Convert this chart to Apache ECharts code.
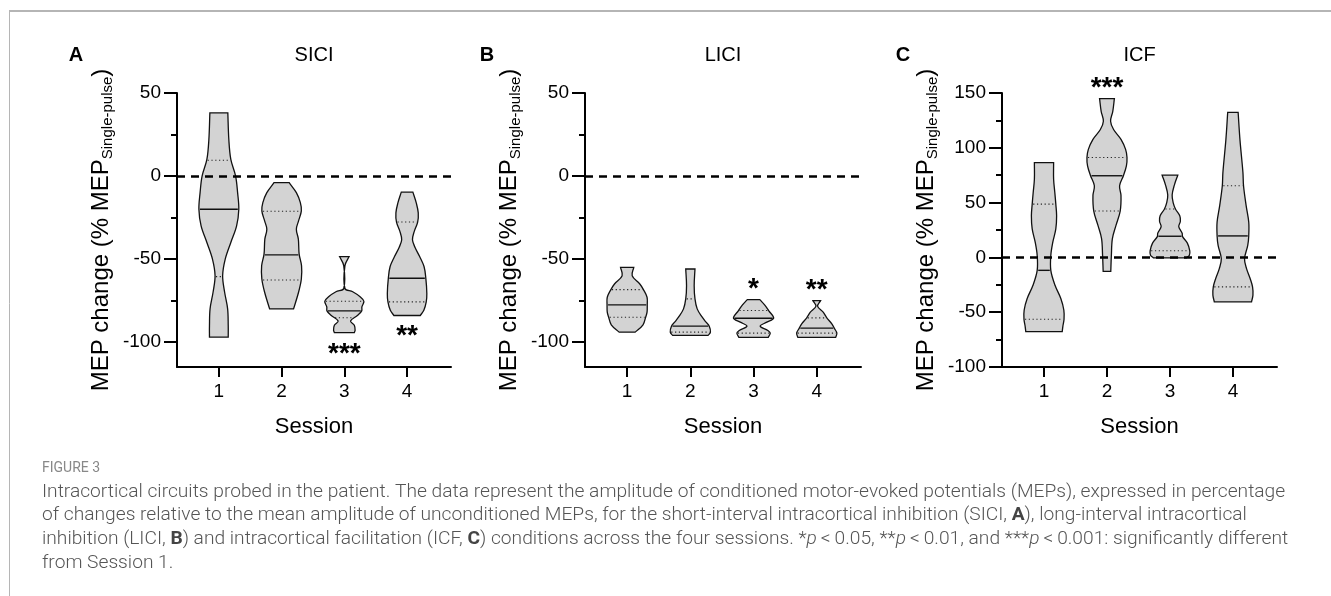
<!DOCTYPE html>
<html><head><meta charset="utf-8">
<script src="https://cdn.jsdelivr.net/npm/echarts@6/dist/echarts.min.js"></script>
<style>html,body{margin:0;padding:0;background:#fff}#c{width:1331px;height:596px}</style>
</head><body><div id="c"></div><script>
// ---------------- DATA ----------------
const sessions = [1, 2, 3, 4];
const xTickLabels = ['1', '2', '3', '4'];
const yTicksAB = [-100, -50, 0, 50];
const yMinorAB = [-75, -25, 25];
const yTicksC = [-100, -50, 0, 50, 100, 150];
const yMinorC = [-75, -25, 25, 75, 125];

// Violin outlines: levels (% change) and relative half-width (1 = widest)
const siciS1Level = [38, 22, 10, 0, -10, -20, -30, -40, -50, -60, -70, -80, -90, -97];
const siciS1Width = [0.45, 0.5, 0.6, 0.84, 0.94, 1, 0.89, 0.6, 0.32, 0.19, 0.29, 0.44, 0.47, 0.47];
const siciS2Level = [-4, -10, -16, -21, -27, -32, -38, -47, -54, -62, -70, -80];
const siciS2Width = [0.38, 0.74, 0.94, 0.99, 0.85, 0.74, 0.84, 0.88, 1, 0.99, 0.85, 0.6];
const siciS3Level = [-48.5, -54, -67.7, -69.7, -72.7, -75.4, -78.8, -81.2, -83.8, -87.3, -89.9, -92.9, -94.3];
const siciS3Width = [0.24, 0.03, 0.03, 0.42, 0.79, 0.98, 0.88, 0.87, 0.67, 0.31, 0.5, 0.54, 0.5];
const siciS4Level = [-9.7, -16.2, -22.2, -27.7, -33.3, -38.4, -43, -48.5, -54.5, -61.6, -70.7, -75.8, -80.8, -84];
const siciS4Width = [0.29, 0.46, 0.56, 0.53, 0.36, 0.27, 0.4, 0.63, 0.85, 0.94, 0.99, 0.96, 0.84, 0.66];
const siciMedian = [-20, -47.5, -81.2, -61.6];
const siciQ1 = [-60.6, -62.6, -85.3, -75.8];
const siciQ3 = [9.5, -21.2, -75.4, -27.7];
const siciStars = ['', '', '***', '**'];
const siciStarY = [null, null, -105, -94];

const liciS1Level = [-55, -60, -65, -68.4, -73, -77.6, -82, -85, -89.6, -94];
const liciS1Width = [0.33, 0.25, 0.63, 0.81, 0.99, 1, 0.99, 0.92, 0.79, 0.4];
const liciS2Level = [-56, -66, -74, -80, -85, -88, -90.4, -94, -96];
const liciS2Width = [0.23, 0.19, 0.23, 0.34, 0.59, 0.78, 0.94, 1, 0.88];
const liciS3Level = [-74.4, -78, -81, -85.6, -88, -90.4, -93, -94.6, -97.2];
const liciS3Width = [0.31, 0.58, 0.75, 1, 0.66, 0.33, 0.71, 0.83, 0.73];
const liciS4Level = [-75, -78.4, -82, -85.4, -89, -91.6, -94.6, -97.2];
const liciS4Width = [0.19, 0.04, 0.32, 0.5, 0.75, 0.87, 1, 0.94];
const liciMedian = [-77.6, -90.4, -85.6, -91.6];
const liciQ1 = [-85, -94, -94.6, -94.6];
const liciQ3 = [-68.4, -74, -81, -85.4];
const liciStars = ['', '', '*', '**'];
const liciStarY = [null, null, -66, -66.5];

const icfS1Level = [86.4, 71.3, 59.2, 48.6, 38, 26, 13.9, 1.8, -11.8, -25.4, -37.5, -48, -56.5, -63.1, -67.7];
const icfS1Width = [0.48, 0.48, 0.54, 0.59, 0.63, 0.59, 0.44, 0.34, 0.34, 0.55, 0.84, 0.99, 1, 0.94, 0.91];
const icfS2Level = [144.8, 133.3, 124.3, 116.7, 107.7, 98.6, 91.1, 83.5, 74.5, 65.4, 56.4, 42.3, 29.2, 17.2, 2.1, -12.8];
const icfS2Width = [0.37, 0.29, 0.18, 0.33, 0.7, 0.93, 1, 0.97, 0.82, 0.63, 0.7, 0.66, 0.45, 0.27, 0.22, 0.19];
const icfS3Level = [75, 66, 57, 50, 44, 38, 33, 28, 22, 19, 13, 6, 2, -0.5];
const icfS3Width = [0.39, 0.22, 0.11, 0.16, 0.28, 0.49, 0.52, 0.44, 0.61, 0.63, 0.87, 0.99, 0.97, 0.82];
const icfS4Level = [132.4, 107.7, 77.5, 65.4, 47.3, 32.3, 19.6, 10.9, -1.2, -10.3, -19.3, -26.9, -34.4, -40.5];
const icfS4Width = [0.26, 0.35, 0.5, 0.53, 0.66, 0.79, 0.79, 0.74, 0.58, 0.68, 0.86, 0.98, 1, 0.93];
const icfMedian = [-11.8, 74.5, 19.3, 19.6];
const icfQ1 = [-56.5, 42.3, 6.1, -26.9];
const icfQ3 = [48.6, 91.1, 44.2, 65.4];
const icfStars = ['', '***', '', ''];
const icfStarY = [null, 157.5, null, null];

const panelTitles = ['SICI', 'LICI', 'ICF'];
const panelLetters = ['A', 'B', 'C'];
const yTitleMain = 'MEP change (% MEP';
const yTitleSub = 'Single-pulse';
const yTitleEnd = ')';
const xAxisTitle = 'Session';

const figureLabel = 'FIGURE 3';
const captionLines = [
  'Intracortical circuits probed in the patient. The data represent the amplitude of conditioned motor-evoked potentials (MEPs), expressed in percentage',
  'of changes relative to the mean amplitude of unconditioned MEPs, for the short-interval intracortical inhibition (SICI, {b|A}), long-interval intracortical',
  'inhibition (LICI, {b|B}) and intracortical facilitation (ICF, {b|C}) conditions across the four sessions. *{i|p}\u2009<\u20090.05, **{i|p}\u2009<\u20090.01, and ***{i|p}\u2009<\u20090.001: significantly different',
  'from Session 1.'
];

// ---------------- LAYOUT / STYLE ----------------
const FONT = '"Liberation Sans", Arial, Helvetica, sans-serif';
const CAPFONT = 'Roboto, "Noto Sans", sans-serif';
const HALF = 0.318;          // widest half-width in session units
const X_MIN = 0.333, X_MAX = 4.7;
const gridTop = 93, gridHeight = 274;
const gridLefts = [177, 585, 1002];
const gridWidths = [274, 276, 275];

const panels = [
  { levels: [siciS1Level, siciS2Level, siciS3Level, siciS4Level], widths: [siciS1Width, siciS2Width, siciS3Width, siciS4Width],
    med: siciMedian, q1: siciQ1, q3: siciQ3, stars: siciStars, starY: siciStarY, yMin: -115, yMax: 50, ticks: yTicksAB, minor: yMinorAB },
  { levels: [liciS1Level, liciS2Level, liciS3Level, liciS4Level], widths: [liciS1Width, liciS2Width, liciS3Width, liciS4Width],
    med: liciMedian, q1: liciQ1, q3: liciQ3, stars: liciStars, starY: liciStarY, yMin: -115, yMax: 50, ticks: yTicksAB, minor: yMinorAB },
  { levels: [icfS1Level, icfS2Level, icfS3Level, icfS4Level], widths: [icfS1Width, icfS2Width, icfS3Width, icfS4Width],
    med: icfMedian, q1: icfQ1, q3: icfQ3, stars: icfStars, starY: icfStarY, yMin: -100, yMax: 150, ticks: yTicksC, minor: yMinorC }
];

function interpWidth(L, W, v) {
  for (let k = 0; k < L.length - 1; k++) {
    const a = L[k], b = L[k + 1];
    if ((v <= a && v >= b) || (v >= a && v <= b)) {
      const t = (a === b) ? 0 : (v - a) / (b - a);
      return W[k] + t * (W[k + 1] - W[k]);
    }
  }
  return W[W.length - 1];
}

function violinRender(p) {
  return function (params, api) {
    const i = params.dataIndex;
    const xc = api.value(0);
    const L = p.levels[i], W = p.widths[i];
    const n = L.length;
    const R = [], Lf = [];
    for (let k = 0; k < n; k++) {
      R.push(api.coord([xc + W[k] * HALF, L[k]]));
      Lf.push(api.coord([xc - W[k] * HALF, L[k]]));
    }
    const pts = [R[0].slice(), R[0].slice()];
    for (let k = 1; k < n - 1; k++) pts.push(R[k]);
    pts.push(R[n - 1].slice(), R[n - 1].slice(), Lf[n - 1].slice(), Lf[n - 1].slice());
    for (let k = n - 2; k >= 1; k--) pts.push(Lf[k]);
    pts.push(Lf[0].slice(), Lf[0].slice());
    const children = [{
      type: 'polygon',
      shape: { points: pts, smooth: 0.35, smoothConstraint: false },
      style: { fill: '#d3d3d3', stroke: '#111', lineWidth: 1.3 }
    }];
    function hline(v, dashed) {
      const hw = interpWidth(L, W, v) * HALF;
      const a = api.coord([xc - hw, v]), b = api.coord([xc + hw, v]);
      children.push({
        type: 'line',
        shape: { x1: a[0] + 1, y1: a[1], x2: b[0] - 1, y2: b[1] },
        style: dashed ? { stroke: '#222', lineWidth: 1.1, lineDash: [1.2, 2.6] } : { stroke: '#111', lineWidth: 1.4 }
      });
    }
    hline(p.q3[i], true);
    hline(p.q1[i], true);
    hline(p.med[i], false);
    return { type: 'group', children: children };
  };
}

function starRender(p) {
  return function (params, api) {
    const pt = api.coord([api.value(0), api.value(1)]);
    return {
      type: 'text', x: pt[0], y: pt[1] + 4,
      style: { text: p.stars[api.value(2)], font: 'bold 28px ' + FONT, fill: '#000', align: 'center', verticalAlign: 'middle' }
    };
  };
}

const grids = [], xAxes = [], yAxes = [], series = [];
panels.forEach(function (p, g) {
  grids.push({ left: gridLefts[g], top: gridTop, width: gridWidths[g], height: gridHeight });
  xAxes.push({
    type: 'value', gridIndex: g, min: X_MIN, max: X_MAX,
    axisLine: { show: true, onZero: false, lineStyle: { color: '#000', width: 2 } },
    axisTick: { show: true, customValues: sessions, length: 10, lineStyle: { color: '#000', width: 2 } },
    axisLabel: { show: true, customValues: sessions, formatter: function (v) { return xTickLabels[sessions.indexOf(Math.round(v))]; },
      fontSize: 19, color: '#000', fontFamily: FONT, margin: 15 },
    splitLine: { show: false },
    name: xAxisTitle, nameLocation: 'middle', nameGap: 49,
    nameTextStyle: { fontSize: 22, color: '#000', fontFamily: FONT }
  });
  yAxes.push({
    type: 'value', gridIndex: g, min: p.yMin, max: p.yMax, position: 'left',
    axisLine: { show: true, onZero: false, lineStyle: { color: '#000', width: 2 } },
    axisTick: { show: true, customValues: p.ticks, length: 13, lineStyle: { color: '#000', width: 2 } },
    axisLabel: { show: true, customValues: p.ticks, fontSize: 19, color: '#000', fontFamily: FONT, margin: 16 },
    splitLine: { show: false }
  });
  yAxes.push({
    type: 'value', gridIndex: g, min: p.yMin, max: p.yMax, position: 'left',
    axisLine: { show: false, onZero: false },
    axisTick: { show: true, customValues: p.minor, length: 6, lineStyle: { color: '#000', width: 2 } },
    axisLabel: { show: false }, splitLine: { show: false }
  });
  // zero reference line
  series.push({
    type: 'line', xAxisIndex: g, yAxisIndex: 2 * g, data: [], z: 1, silent: true,
    markLine: { silent: true, symbol: ['none', 'none'], label: { show: false },
      lineStyle: { type: [8, 6], width: 2.5, color: '#000' }, data: [{ yAxis: 0 }] }
  });
  series.push({
    type: 'custom', xAxisIndex: g, yAxisIndex: 2 * g, z: 3, clip: false, silent: true,
    data: sessions.map(function (s, k) { return [s, p.med[k]]; }),
    encode: { x: 0, y: 1 },
    renderItem: violinRender(p)
  });
  series.push({
    type: 'custom', xAxisIndex: g, yAxisIndex: 2 * g, z: 4, clip: false, silent: true,
    data: sessions.map(function (s, k) { return [s, p.starY[k], k]; }).filter(function (d) { return p.stars[d[2]]; }),
    encode: { x: 0, y: 1 },
    renderItem: starRender(p)
  });
});

// text measurement helper
const ctx = document.createElement('canvas').getContext('2d');
function textW(font, s) { ctx.font = font; return ctx.measureText(s).width; }

const capSize = Math.round(100 * 1241 / textW('300 100px ' + CAPFONT, captionLines[0]) * 10) / 10;
const capColor = '#555';

const graphics = [
  { type: 'line', shape: { x1: 9, y1: 11, x2: 1331, y2: 11 }, style: { stroke: '#b5b5b5', lineWidth: 2 } },
  { type: 'line', shape: { x1: 9.5, y1: 11, x2: 9.5, y2: 596 }, style: { stroke: '#b5b5b5', lineWidth: 1 } }
];

// rotated y-axis titles with subscript
const mainFont = '24px ' + FONT, subFont = '15px ' + FONT;
const wMain = textW(mainFont, yTitleMain), wSub = textW(subFont, yTitleSub), wEnd = textW(mainFont, yTitleEnd);
const wTot = wMain + wSub + wEnd;
gridLefts.forEach(function (gl) {
  const baseX = gl - 67.5;            // screen x of main-text baseline
  const cy = gridTop + gridHeight / 2;
  const x0 = -wTot / 2;
  graphics.push({
    type: 'group', x: baseX - 8.3, y: cy, rotation: Math.PI / 2,
    children: [
      { type: 'text', x: x0, y: 0, style: { text: yTitleMain, font: mainFont, fill: '#000', align: 'left', verticalAlign: 'middle' } },
      { type: 'text', x: x0 + wMain, y: 6.5, style: { text: yTitleSub, font: subFont, fill: '#000', align: 'left', verticalAlign: 'middle' } },
      { type: 'text', x: x0 + wMain + wSub, y: 0, style: { text: yTitleEnd, font: mainFont, fill: '#000', align: 'left', verticalAlign: 'middle' } }
    ]
  });
});

panelTitles.forEach(function (t, g) {
  const cx = gridLefts[g] + gridWidths[g] / 2;
  graphics.push({ type: 'text', x: cx, y: 55, style: { text: t, font: '20px ' + FONT, fill: '#000', align: 'center', verticalAlign: 'middle' } });
});
const letterX = [76, 487, 903];
panelLetters.forEach(function (t, g) {
  graphics.push({ type: 'text', x: letterX[g], y: 55, style: { text: t, font: 'bold 20px ' + FONT, fill: '#000', align: 'center', verticalAlign: 'middle' } });
});
graphics.push({ type: 'text', x: 42, y: 468, style: { text: figureLabel, font: '14px ' + CAPFONT, fill: '#888', align: 'left', verticalAlign: 'middle' } });
const lineYs = [492, 515.5, 539, 563];
captionLines.forEach(function (t, k) {
  graphics.push({ type: 'text', x: 42, y: lineYs[k], style: {
    text: t, font: '300 ' + capSize + 'px ' + CAPFONT, fill: capColor, align: 'left', verticalAlign: 'middle',
    rich: {
      b: { font: 'bold ' + capSize + 'px ' + CAPFONT, fill: '#444' },
      i: { font: 'italic 300 ' + capSize + 'px ' + CAPFONT, fill: capColor }
    }
  } });
});

const chart = echarts.init(document.getElementById('c'), null, { renderer: 'canvas' });
chart.setOption({
  animation: false,
  backgroundColor: '#fff',
  grid: grids, xAxis: xAxes, yAxis: yAxes, series: series,
  graphic: graphics
});
</script></body></html>
